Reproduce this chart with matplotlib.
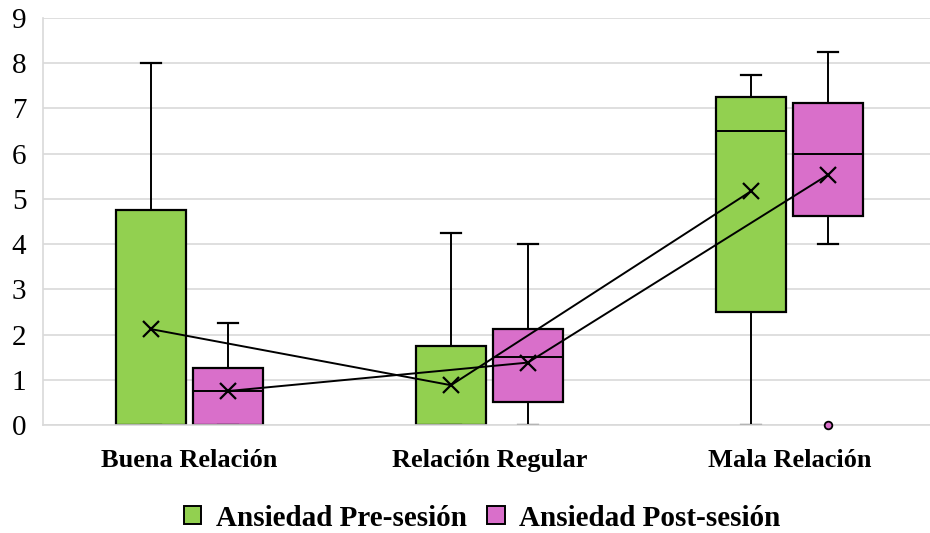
import matplotlib.pyplot as plt
from matplotlib.patches import Patch

plt.rcParams['font.family'] = ['Liberation Serif', 'DejaVu Serif']

categorias = ['Buena Relación', 'Relación Regular', 'Mala Relación']
series = ['Ansiedad Pre-sesión', 'Ansiedad Post-sesión']
colores = ['#92d050', '#d96fca']

# estadisticos por grupo: min, Q1, mediana, Q3, max, media, atipicos
pre_min = [0, 0, 0]
pre_q1 = [0, 0, 2.5]
pre_med = [0, 0, 6.5]
pre_q3 = [4.75, 1.75, 7.25]
pre_max = [8, 4.25, 7.75]
pre_media = [2.12, 0.88, 5.17]
pre_atip = [[], [], []]

post_min = [0, 0, 4]
post_q1 = [0, 0.5, 4.63]
post_med = [0.75, 1.5, 6]
post_q3 = [1.25, 2.13, 7.13]
post_max = [2.25, 4, 8.25]
post_media = [0.75, 1.38, 5.53]
post_atip = [[], [], [0]]


def stats(mn, q1, med, q3, mx, media, atip):
    return [dict(whislo=mn[i], q1=q1[i], med=med[i], q3=q3[i], whishi=mx[i],
                 mean=media[i], fliers=atip[i]) for i in range(len(mn))]


grupos = [stats(pre_min, pre_q1, pre_med, pre_q3, pre_max, pre_media, pre_atip),
          stats(post_min, post_q1, post_med, post_q3, post_max, post_media, post_atip)]
medias = [pre_media, post_media]

fig = plt.figure(figsize=(9.3, 5.33), dpi=100)
ax = fig.add_axes([43 / 930, 108 / 533, 900 / 930, 407 / 533])

desp = 0.128
ancho = 0.233
x = list(range(len(categorias)))
for k, (st, col) in enumerate(zip(grupos, colores)):
    pos = [i + (2 * k - 1) * desp for i in x]
    bp = ax.bxp(st, positions=pos, widths=ancho, capwidths=0.067, patch_artist=True,
                showmeans=False, showfliers=True,
                boxprops=dict(facecolor=col, edgecolor='black', linewidth=1.6),
                medianprops=dict(color='black', linewidth=1.4),
                whiskerprops=dict(color='black', linewidth=1.4),
                capprops=dict(color='black', linewidth=1.6),
                flierprops=dict(marker='o', markersize=5.5, markerfacecolor=col,
                                markeredgecolor='black', markeredgewidth=1.3))
    for f in bp['fliers']:
        f.set_zorder(7)
        f.set_clip_on(False)
    # linea que une las medias
    ax.plot(pos, medias[k], color='black', linewidth=1.4, marker='x',
            markersize=12, markeredgewidth=1.6, zorder=4)

ax.set_xlim(-0.488, 2.512)
ax.set_ylim(0, 9)
ax.set_yticks(range(0, 10))
ax.set_xticks(x)
ax.set_xticklabels(categorias, fontsize=19, fontweight='bold')
ax.tick_params(axis='y', length=0, pad=12, labelsize=21)
ax.tick_params(axis='x', length=0, pad=17)
ax.yaxis.grid(True, color='#d9d9d9', linewidth=1.2)
ax.set_axisbelow(True)
for s in ['top', 'right']:
    ax.spines[s].set_visible(False)
for s in ['left', 'bottom']:
    ax.spines[s].set_color('#d9d9d9')
    ax.spines[s].set_linewidth(1.2)
ax.spines['bottom'].set_zorder(6)

handles = [Patch(facecolor=c, edgecolor='black', linewidth=1.4) for c in colores]
fig.legend(handles, series, loc='center', bbox_to_anchor=(482 / 930, 15 / 533),
           ncol=2, frameon=False, prop=dict(size=21, weight='bold'),
           handlelength=0.6, handleheight=0.6, handletextpad=0.5, columnspacing=0.7)

fig.savefig('out.png', dpi=100)
